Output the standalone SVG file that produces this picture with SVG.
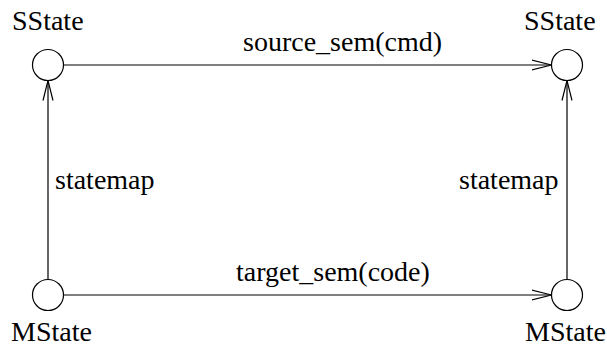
<svg xmlns="http://www.w3.org/2000/svg" width="607" height="350" viewBox="0 0 607 350">
  <style>
    .state { fill: #ffffff; stroke: #000000; stroke-width: 1.2; }
    .edge { fill: none; stroke: #000000; stroke-width: 1.2; }
    .lbl { font-family: "Liberation Serif", "Times New Roman", serif; font-size: 28px; fill: #000000; }
  </style>
  <defs>
    <!-- open V arrowhead shared by all transitions -->
    <marker id="open-arrow" viewBox="0 0 20 12" refX="20" refY="6" markerWidth="20" markerHeight="12" markerUnits="userSpaceOnUse" orient="auto">
      <path d="M0,1 L20,6 L0,11" fill="none" stroke="#000000" stroke-width="1.2"/>
    </marker>
  </defs>
  <rect width="607" height="350" fill="#ffffff"/>

  <g id="connectors">
    <line class="edge" x1="63.5" y1="65" x2="551.5" y2="65" marker-end="url(#open-arrow)"/>
    <line class="edge" x1="63.5" y1="295" x2="551.5" y2="295" marker-end="url(#open-arrow)"/>
    <line class="edge" x1="48" y1="279.5" x2="48" y2="80.5" marker-end="url(#open-arrow)"/>
    <line class="edge" x1="567" y1="279.5" x2="567" y2="80.5" marker-end="url(#open-arrow)"/>
    <text class="lbl" x="243" y="51">source_sem(cmd)</text>
    <text class="lbl" x="236" y="281">target_sem(code)</text>
    <text class="lbl" x="55" y="189">statemap</text>
    <text class="lbl" x="459" y="189">statemap</text>
  </g>

  <g id="sstate-src">
    <circle class="state" cx="48" cy="65" r="15.5"/>
    <text class="lbl" x="12" y="30">SState</text>
  </g>
  <g id="sstate-dst">
    <circle class="state" cx="567" cy="65" r="15.5"/>
    <text class="lbl" x="524" y="30">SState</text>
  </g>
  <g id="mstate-src">
    <circle class="state" cx="48" cy="295" r="15.5"/>
    <text class="lbl" x="11" y="341">MState</text>
  </g>
  <g id="mstate-dst">
    <circle class="state" cx="567" cy="295" r="15.5"/>
    <text class="lbl" x="525" y="341">MState</text>
  </g>
</svg>
